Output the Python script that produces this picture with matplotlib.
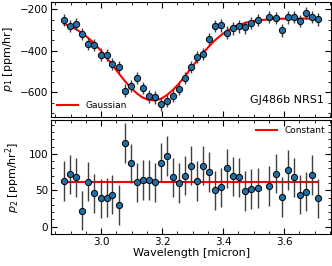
import matplotlib
matplotlib.use("Agg")
import numpy as np
from matplotlib import pyplot as plt
from matplotlib.ticker import MultipleLocator

# wavelength bins [micron] (one bin near 3.53 is missing)
wave = [2.879, 2.899, 2.919, 2.938, 2.958, 2.978, 2.998, 3.018, 3.037, 3.057,
        3.077, 3.097, 3.117, 3.136, 3.156, 3.176, 3.196, 3.215, 3.235, 3.255,
        3.275, 3.295, 3.315, 3.334, 3.354, 3.374, 3.394, 3.414, 3.433, 3.453,
        3.473, 3.493, 3.513, 3.552, 3.572, 3.592, 3.612, 3.631, 3.651, 3.671,
        3.691, 3.711]

# linear term p1 [ppm/hr]
p1 = [-253, -282, -272, -320, -369, -374, -419, -422, -465, -480,
      -593, -571, -531, -580, -621, -625, -659, -643, -617, -585,
      -532, -478, -430, -416, -345, -282, -278, -313, -293, -283,
      -288, -267, -251, -238, -243, -302, -240, -238, -256, -219,
      -238, -249]
p1_err = [30] * len(wave)

# gaussian fit evaluated at the bins
p1_model = [-271, -283, -298, -316, -339, -366, -398, -434, -469, -508,
            -545, -578, -606, -626, -638, -640, -632, -615, -590, -559,
            -523, -485, -447, -412, -379, -349, -324, -304, -288, -276,
            -266, -259, -254, -249, -247, -246, -246, -245, -245, -245,
            -245, -245]

# quadratic term p2 [ppm/hr^2]
p2 = [63, 72, 68, 22, 62, 46, 39, 40, 44, 30,
      115, 87, 61, 64, 64, 61, 88, 97, 68, 60,
      70, 84, 63, 84, 75, 50, 54, 80, 69, 68,
      49, 52, 53, 56, 73, 41, 78, 68, 44, 48,
      71, 39]
p2_err = [27] * len(wave)
p2_const = 62

plt.rcParams["font.family"] = "DejaVu Sans"
plt.rcParams["mathtext.fontset"] = "dejavusans"

fig, (ax1, ax2) = plt.subplots(2, 1, figsize=(3.32, 2.66), dpi=100, sharex=True)
plt.subplots_adjust(left=0.154, right=0.997, top=0.992, bottom=0.12, hspace=0.026)

ekw = dict(fmt="o", ms=4.5, mfc="#1f6fa8", mec="k", mew=0.7,
           ecolor="0.25", elinewidth=1.0, capsize=0, zorder=3)

ax1.errorbar(wave, p1, yerr=p1_err, **ekw)
ax1.plot(wave, p1_model, color="red", lw=1.5, label="Gaussian", zorder=2)
ax1.set_ylim(-718, -166)
ax1.set_ylabel("$p_1$ [ppm/hr]", fontsize=8)
ax1.yaxis.set_major_locator(MultipleLocator(200))
ax1.yaxis.set_minor_locator(MultipleLocator(50))
ax1.legend(loc="lower left", frameon=False, fontsize=6.5, handlelength=2.3,
           borderaxespad=0.3)
ax1.text(0.975, 0.1, "GJ486b NRS1", transform=ax1.transAxes, ha="right",
         va="bottom", fontsize=8)
ax1.yaxis.set_label_coords(-0.129, 0.5)

ax2.errorbar(wave, p2, yerr=p2_err, **ekw)
ax2.plot([wave[0], wave[-1]], [p2_const, p2_const], color="red", lw=1.5,
         label="Constant", zorder=2)
ax2.set_ylim(-10, 147)
ax2.set_ylabel("$p_2$ [ppm/hr$^2$]", fontsize=8)
ax2.yaxis.set_major_locator(MultipleLocator(50))
ax2.yaxis.set_minor_locator(MultipleLocator(10))
ax2.legend(loc="upper right", frameon=False, fontsize=6.5, handlelength=2.3,
           borderaxespad=0.3)
ax2.set_xlabel("Wavelength [micron]", fontsize=8, labelpad=1)
ax2.yaxis.set_label_coords(-0.104, 0.5)

ax2.set_xlim(2.836, 3.754)
ax2.xaxis.set_major_locator(MultipleLocator(0.2))
ax2.xaxis.set_minor_locator(MultipleLocator(0.05))

for ax in (ax1, ax2):
    ax.tick_params(which="both", direction="in", top=True, right=True,
                   labelsize=7.5, pad=2)
    ax.tick_params(which="major", length=4, width=0.8)
    ax.tick_params(which="minor", length=2, width=0.6)
    for s in ax.spines.values():
        s.set_linewidth(0.8)

fig.savefig("out.png", dpi=100)
